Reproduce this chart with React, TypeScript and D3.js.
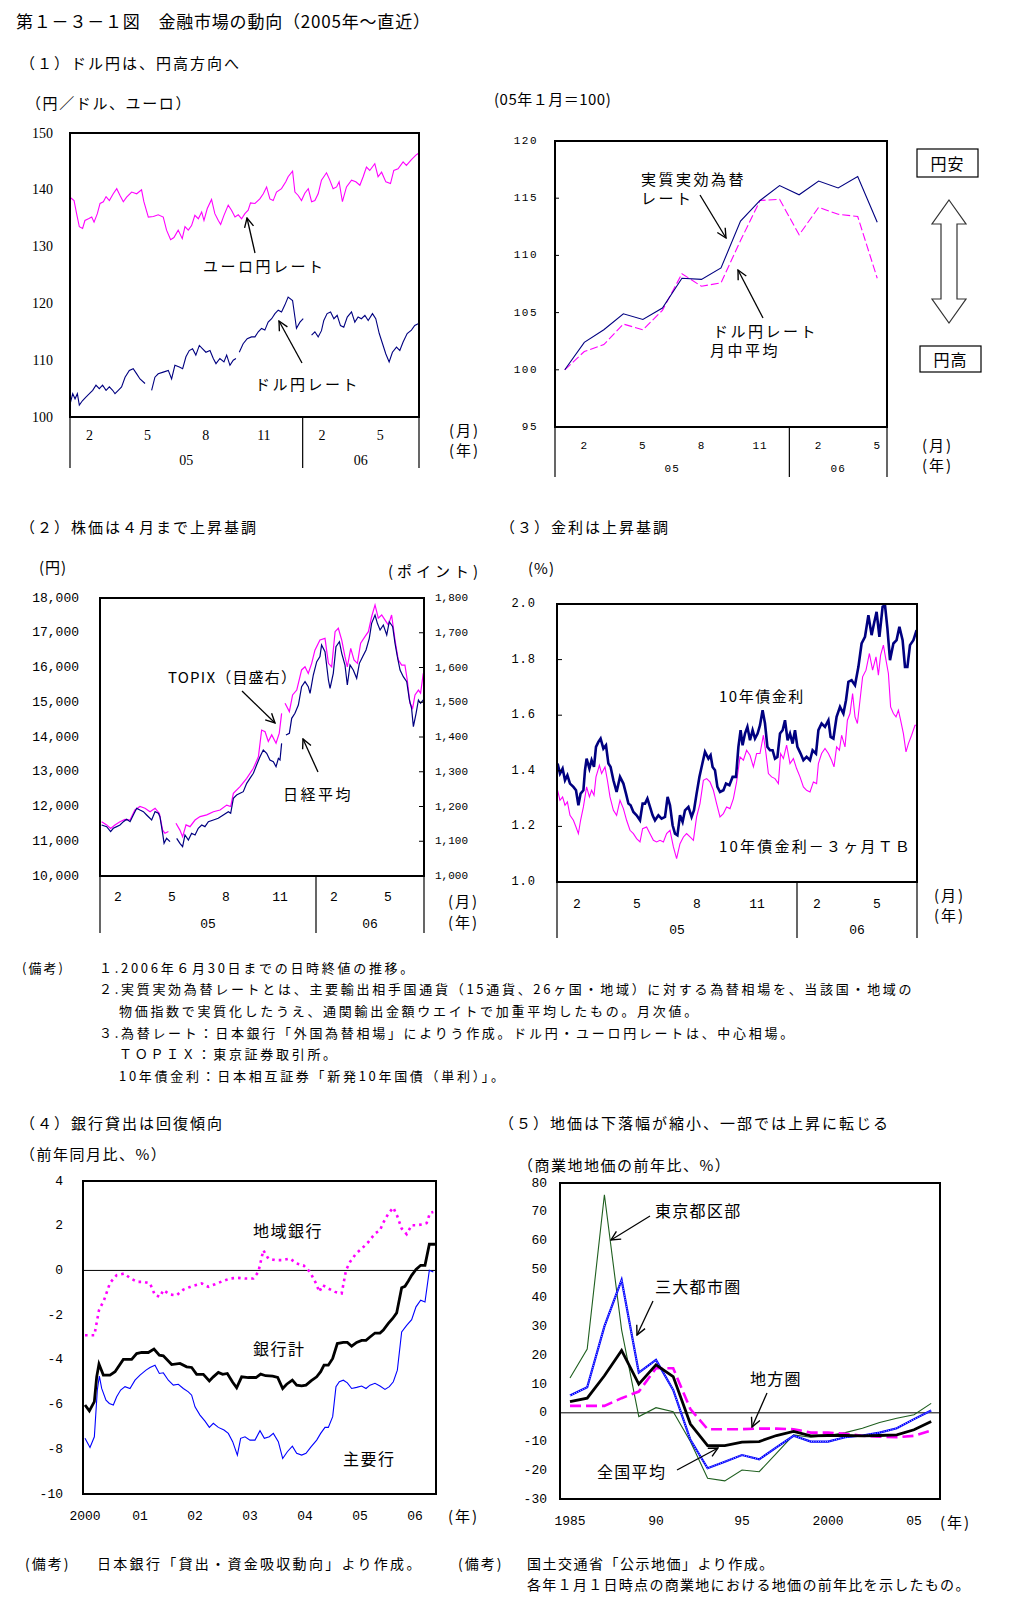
import React from "react";
import * as d3 from "d3";

type P = [number, number | null];

// ---------------- DATA ----------------
// (1) left: daily rates, [months since 1 Jan 2005, yen]
const euroYen: P[] = [[0.03,138.6],[0.21,138.1],[0.34,135.8],[0.48,133.5],[0.65,133.2],[0.77,134.6],[0.95,134.9],[1.12,135.2],[1.24,134.3],[1.41,135.8],[1.55,137.6],[1.72,137.9],[1.86,138.8],[2.03,138.1],[2.23,139.3],[2.41,140.2],[2.58,139.0],[2.75,137.9],[2.92,138.7],[3.18,139.6],[3.44,139.3],[3.69,140.0],[3.81,137.9],[4.04,135.2],[4.30,135.3],[4.55,135.6],[4.81,135.2],[4.98,132.9],[5.19,131.2],[5.36,131.6],[5.58,132.9],[5.79,131.4],[5.93,133.5],[6.10,132.9],[6.27,133.7],[6.44,135.5],[6.62,134.9],[6.79,136.1],[6.91,134.6],[7.08,136.7],[7.30,138.3],[7.47,135.8],[7.65,134.6],[7.77,133.9],[7.94,135.5],[8.16,137.3],[8.33,136.4],[8.51,135.2],[8.68,135.6],[8.85,134.9],[9.02,135.8],[9.19,136.4],[9.31,137.7],[9.54,137.6],[9.79,138.4],[9.97,139.3],[10.14,140.5],[10.31,138.4],[10.48,138.1],[10.65,139.6],[10.91,140.2],[11.13,141.4],[11.25,142.3],[11.48,143.3],[11.60,139.6],[11.77,139.0],[11.94,138.1],[12.11,139.4],[12.29,140.2],[12.46,137.9],[12.63,138.1],[12.80,139.3],[12.97,141.7],[13.23,143.0],[13.40,141.7],[13.57,140.2],[13.75,140.5],[13.88,141.4],[14.05,137.9],[14.26,140.5],[14.52,141.7],[14.74,141.4],[14.95,140.8],[15.12,142.3],[15.29,144.0],[15.46,143.4],[15.72,144.6],[15.89,142.3],[16.07,143.1],[16.29,141.4],[16.53,141.1],[16.70,143.4],[16.92,143.7],[17.18,144.9],[17.35,144.3],[17.61,145.3],[17.84,146.1],[17.96,146.4]];
const usdYen: P[] = [[0.03,102.6],[0.14,104.1],[0.26,103.2],[0.38,104.1],[0.48,102.1],[0.65,102.9],[0.82,103.5],[1.00,104.1],[1.17,104.7],[1.34,105.6],[1.51,105.0],[1.68,105.6],[1.86,104.7],[2.03,105.3],[2.20,104.7],[2.32,104.1],[2.49,104.7],[2.66,105.3],[2.84,107.0],[3.06,108.2],[3.26,108.5],[3.44,107.6],[3.61,106.7],[3.87,105.9],[4.0,null],[4.21,104.7],[4.38,107.0],[4.55,107.6],[4.81,107.9],[5.07,108.2],[5.24,106.7],[5.41,109.1],[5.64,108.8],[5.81,108.5],[5.98,110.6],[6.15,111.7],[6.32,112.0],[6.49,110.9],[6.67,112.6],[6.84,112.0],[7.01,111.4],[7.22,111.7],[7.39,110.3],[7.53,109.4],[7.73,110.3],[7.94,109.7],[8.08,110.9],[8.25,109.1],[8.42,110.0],[8.56,110.3],[8.65,null],[8.73,111.4],[8.93,112.9],[9.14,113.8],[9.36,114.1],[9.54,114.1],[9.71,115.0],[9.88,115.6],[10.05,115.3],[10.22,116.7],[10.40,117.3],[10.57,118.2],[10.74,118.8],[10.91,118.5],[11.08,119.7],[11.25,121.1],[11.48,120.5],[11.60,117.6],[11.68,115.6],[11.86,116.7],[12.03,117.3],[12.2,null],[12.46,114.4],[12.63,115.0],[12.80,114.1],[12.97,115.2],[13.09,117.0],[13.26,118.2],[13.44,118.5],[13.61,117.3],[13.78,117.9],[13.95,116.1],[14.12,115.8],[14.30,117.6],[14.52,118.5],[14.69,116.7],[14.86,117.6],[15.03,117.3],[15.21,117.9],[15.38,117.0],[15.60,118.2],[15.77,117.3],[15.95,114.7],[16.12,112.9],[16.29,111.1],[16.46,109.7],[16.63,111.4],[16.84,112.3],[17.01,111.7],[17.18,113.2],[17.39,114.7],[17.61,115.3],[17.78,116.1],[17.96,116.4]];

// (1) right: monthly, Jan 2005 .. May 2006 (Jan 2005 = 100)
const realEffective = [100, 102.4, 103.5, 104.9, 104.4, 105.4, 108.0, 107.9, 108.9, 113.0, 114.8, 116.1, 115.3, 116.5, 115.9, 116.9, 112.9];
const usdMonthlyAvg = [100, 101.6, 102.2, 104.0, 103.5, 105.2, 108.4, 107.3, 107.6, 111.3, 114.8, 114.9, 111.8, 114.2, 113.6, 113.4, 108.0];

// (2) stocks: [months since 1 Jan 2005, value]
const nikkei: P[] = [[0.09,11468],[0.37,11420],[0.59,11276],[0.74,11372],[0.93,11420],[1.11,11468],[1.30,11564],[1.48,11631],[1.67,11564],[1.85,11756],[2.04,11947],[2.22,11899],[2.41,11852],[2.59,11756],[2.87,11612],[3.06,11852],[3.24,11804],[3.33,11708],[3.48,11228],[3.56,10940],[3.70,11084],[3.89,10988],[4.05,null],[4.26,11084],[4.44,10940],[4.59,10844],[4.72,11180],[4.91,11036],[5.09,11228],[5.28,11180],[5.46,11372],[5.65,11468],[5.83,11420],[6.02,11564],[6.30,11612],[6.57,11660],[6.85,11756],[7.13,11852],[7.26,11804],[7.41,12235],[7.59,12331],[7.78,12379],[7.96,12427],[8.15,12667],[8.33,12811],[8.52,12955],[8.70,13194],[8.89,13434],[9.07,13626],[9.26,13530],[9.44,13338],[9.63,13290],[9.78,13146],[9.91,13386],[10.00,13338],[10.09,13818],[10.2,null],[10.33,14058],[10.52,14106],[10.65,14537],[10.83,14681],[11.02,14921],[11.20,15448],[11.39,15592],[11.57,15448],[11.67,15257],[11.85,15784],[12.04,16168],[12.22,16312],[12.31,16648],[12.50,16456],[12.69,15640],[12.78,15401],[12.96,15832],[13.11,16600],[13.30,16743],[13.43,16408],[13.61,16072],[13.74,15496],[13.89,16072],[14.07,15928],[14.26,15688],[14.41,16120],[14.59,16312],[14.78,16504],[14.96,16839],[15.09,17271],[15.28,17511],[15.41,17271],[15.56,17079],[15.74,17223],[15.93,16935],[16.07,17319],[16.26,17175],[16.39,16695],[16.52,16312],[16.67,15928],[16.85,15736],[17.04,15592],[17.19,15065],[17.31,14825],[17.41,14297],[17.56,14681],[17.69,15065],[17.81,14969],[17.96,15065]];
const topix: P[] = [[0.09,1156],[0.37,1147],[0.59,1137],[0.83,1147],[1.11,1156],[1.39,1163],[1.67,1161],[1.94,1190],[2.22,1200],[2.50,1195],[2.78,1185],[3.06,1195],[3.30,1180],[3.48,1132],[3.61,1123],[3.80,1128],[4.0,null],[4.22,1152],[4.44,1132],[4.59,1113],[4.78,1147],[5.00,1142],[5.28,1161],[5.56,1171],[5.93,1176],[6.30,1185],[6.67,1190],[7.04,1204],[7.26,1200],[7.41,1238],[7.78,1257],[8.15,1281],[8.52,1310],[8.80,1343],[8.98,1420],[9.17,1415],[9.35,1387],[9.54,1406],[9.78,1382],[9.96,1411],[10.09,1468],[10.2,null],[10.28,1497],[10.52,1473],[10.70,1521],[10.93,1535],[11.20,1593],[11.39,1602],[11.57,1583],[11.76,1612],[11.94,1650],[12.22,1679],[12.50,1684],[12.69,1612],[12.87,1602],[13.06,1703],[13.24,1713],[13.43,1679],[13.61,1631],[13.74,1602],[13.93,1655],[14.11,1622],[14.30,1612],[14.48,1670],[14.72,1689],[14.91,1703],[15.09,1746],[15.28,1780],[15.46,1742],[15.65,1751],[15.83,1737],[16.02,1722],[16.20,1751],[16.39,1679],[16.57,1622],[16.76,1607],[16.94,1607],[17.07,1564],[17.22,1497],[17.37,1483],[17.50,1521],[17.69,1535],[17.81,1526],[17.96,1583]];

// (3) rates: [months since 1 Jan 2005, %]
const jgb10: P[] = [[0.03,1.426],[0.15,1.390],[0.28,1.408],[0.40,1.366],[0.52,1.384],[0.65,1.354],[0.82,1.342],[0.95,1.330],[1.07,1.276],[1.18,1.318],[1.32,1.330],[1.40,1.402],[1.48,1.444],[1.62,1.408],[1.73,1.438],[1.85,1.414],[1.95,1.486],[2.07,1.504],[2.18,1.516],[2.32,1.480],[2.45,1.492],[2.57,1.426],[2.68,1.414],[2.82,1.366],[2.98,1.324],[3.15,1.378],[3.32,1.354],[3.45,1.318],[3.57,1.282],[3.68,1.276],[3.82,1.252],[3.98,1.240],[4.15,1.222],[4.28,1.282],[4.40,1.282],[4.52,1.300],[4.65,1.270],[4.78,1.240],[4.90,1.222],[5.07,1.240],[5.23,1.228],[5.40,1.234],[5.53,1.306],[5.65,1.276],[5.78,1.204],[5.90,1.174],[6.02,1.168],[6.15,1.240],[6.28,1.216],[6.40,1.258],[6.57,1.270],[6.73,1.234],[6.85,1.258],[6.98,1.318],[7.12,1.378],[7.23,1.414],[7.40,1.468],[7.57,1.444],[7.68,1.456],[7.78,1.414],[7.90,1.402],[8.02,1.342],[8.15,1.324],[8.32,1.330],[8.45,1.354],[8.62,1.348],[8.78,1.378],[8.95,1.378],[9.07,1.486],[9.18,1.546],[9.28,1.492],[9.40,1.534],[9.52,1.558],[9.65,1.510],[9.78,1.546],[9.90,1.516],[10.03,1.534],[10.15,1.564],[10.28,1.618],[10.40,1.570],[10.52,1.486],[10.65,1.474],[10.78,1.474],[10.90,1.444],[11.02,1.450],[11.15,1.534],[11.28,1.546],[11.40,1.582],[11.53,1.510],[11.65,1.534],[11.78,1.498],[11.90,1.546],[12.02,1.486],[12.18,1.462],[12.32,1.438],[12.48,1.450],[12.65,1.438],[12.78,1.474],[12.95,1.462],[13.07,1.546],[13.23,1.570],[13.40,1.558],[13.57,1.582],[13.68,1.522],[13.82,1.516],[13.98,1.594],[14.15,1.630],[14.32,1.606],[14.45,1.654],[14.57,1.720],[14.73,1.726],[14.90,1.708],[15.07,1.774],[15.23,1.858],[15.40,1.882],[15.57,1.960],[15.73,1.888],[15.85,1.930],[15.98,1.972],[16.12,1.882],[16.28,1.990],[16.40,1.996],[16.52,1.912],[16.65,1.798],[16.82,1.858],[16.98,1.870],[17.12,1.918],[17.28,1.870],[17.40,1.774],[17.52,1.774],[17.65,1.852],[17.82,1.870],[17.98,1.906]];
const spread: P[] = [[0.03,1.330],[0.15,1.294],[0.28,1.306],[0.40,1.276],[0.52,1.288],[0.65,1.240],[0.82,1.222],[0.95,1.198],[1.07,1.174],[1.18,1.222],[1.32,1.270],[1.48,1.342],[1.62,1.306],[1.73,1.330],[1.85,1.312],[1.95,1.378],[2.12,1.420],[2.23,1.390],[2.40,1.414],[2.52,1.366],[2.65,1.306],[2.82,1.258],[2.98,1.240],[3.15,1.294],[3.32,1.264],[3.48,1.222],[3.65,1.186],[3.82,1.174],[3.98,1.156],[4.15,1.144],[4.28,1.192],[4.48,1.198],[4.65,1.174],[4.82,1.150],[4.98,1.144],[5.15,1.150],[5.32,1.144],[5.48,1.174],[5.65,1.186],[5.82,1.126],[5.98,1.084],[6.15,1.138],[6.32,1.162],[6.48,1.174],[6.65,1.162],[6.82,1.150],[6.98,1.234],[7.15,1.282],[7.32,1.366],[7.48,1.372],[7.65,1.360],[7.82,1.330],[7.98,1.282],[8.15,1.234],[8.32,1.246],[8.48,1.270],[8.65,1.264],[8.82,1.300],[8.98,1.360],[9.15,1.450],[9.32,1.438],[9.48,1.474],[9.65,1.456],[9.82,1.414],[9.98,1.462],[10.15,1.462],[10.32,1.528],[10.45,1.462],[10.57,1.390],[10.73,1.378],[10.90,1.372],[11.07,1.354],[11.18,1.462],[11.32,1.444],[11.48,1.492],[11.65,1.426],[11.82,1.444],[11.98,1.408],[12.15,1.378],[12.32,1.342],[12.48,1.330],[12.65,1.324],[12.82,1.360],[12.98,1.354],[13.07,1.426],[13.23,1.462],[13.40,1.480],[13.57,1.462],[13.73,1.438],[13.85,1.414],[13.98,1.486],[14.12,1.474],[14.23,1.528],[14.40,1.486],[14.52,1.582],[14.65,1.606],[14.78,1.678],[14.90,1.594],[15.02,1.570],[15.15,1.654],[15.28,1.738],[15.45,1.762],[15.62,1.822],[15.78,1.762],[15.95,1.810],[16.07,1.744],[16.18,1.816],[16.32,1.852],[16.45,1.798],[16.57,1.750],[16.68,1.630],[16.82,1.606],[16.95,1.594],[17.07,1.618],[17.18,1.582],[17.32,1.534],[17.45,1.468],[17.57,1.498],[17.73,1.528],[17.90,1.564],[17.98,1.564]];

// (4) bank lending, [months since Jan 2000, % y/y]
const bankTotal: P[] = [[0,-6.02],[0.95,-6.28],[2.04,-5.87],[2.55,-4.76],[3.05,-4.19],[4.0,-4.68],[5.45,-4.68],[6.55,-4.53],[8.36,-3.98],[10.18,-3.98],[11.27,-3.72],[12.36,-3.67],[13.82,-3.67],[15.05,-3.52],[16.22,-3.79],[17.09,-3.82],[18.91,-4.21],[20.73,-4.16],[22.18,-4.31],[23.27,-4.34],[24.36,-4.65],[25.82,-4.65],[27.13,-4.94],[28.0,-4.76],[29.09,-4.56],[30.04,-4.65],[31.05,-4.61],[32.15,-4.98],[33.09,-5.25],[34.18,-4.76],[35.64,-4.79],[37.31,-4.79],[38.33,-4.64],[39.42,-4.71],[40.95,-4.73],[42.04,-4.79],[43.13,-5.28],[44.0,-5.09],[45.24,-4.91],[46.18,-5.13],[47.27,-5.16],[48.22,-5.13],[49.31,-4.94],[50.55,-4.76],[51.42,-4.53],[52.15,-4.24],[53.09,-4.24],[54.04,-3.94],[55.05,-3.27],[56.36,-3.22],[57.24,-3.22],[58.18,-3.39],[59.27,-3.22],[60.36,-3.13],[61.31,-3.13],[62.18,-2.98],[63.27,-2.80],[64.36,-2.80],[65.09,-2.67],[66.18,-2.37],[67.13,-2.15],[68.0,-1.90],[69.09,-0.77],[69.82,-0.71],[70.55,-0.47],[71.27,-0.22],[72.22,0.04],[73.24,0.23],[74.18,0.23],[75.13,1.17],[75.85,1.17],[76.36,1.17]];
const majorBanks: P[] = [[0,-7.51],[1.09,-7.92],[2.04,-7.44],[2.69,-5.35],[3.13,-4.73],[3.64,-5.28],[4.58,-5.80],[5.31,-5.95],[6.18,-6.02],[6.91,-5.65],[7.78,-5.35],[8.73,-5.20],[9.82,-5.28],[10.91,-4.91],[12.0,-4.68],[13.31,-4.46],[14.18,-4.34],[15.27,-4.24],[16.22,-4.61],[17.09,-4.58],[18.18,-4.91],[19.27,-5.13],[20.36,-5.09],[21.45,-5.28],[22.55,-5.43],[23.27,-5.58],[24.0,-6.10],[25.09,-6.47],[26.18,-6.74],[27.13,-7.02],[28.0,-6.84],[29.09,-7.02],[30.33,-7.14],[31.27,-7.29],[32.22,-7.66],[33.24,-8.26],[33.96,-7.51],[34.91,-7.44],[36.0,-7.59],[37.09,-7.59],[38.18,-7.17],[39.13,-7.51],[40.22,-7.44],[41.09,-7.29],[42.18,-7.66],[43.13,-8.41],[44.15,-8.11],[45.24,-7.86],[46.18,-8.18],[47.27,-8.26],[48.22,-8.18],[49.31,-7.89],[50.55,-7.59],[51.42,-7.29],[52.36,-7.02],[53.09,-7.02],[54.04,-6.54],[54.76,-5.20],[55.49,-4.98],[56.36,-4.91],[57.24,-5.03],[58.18,-5.28],[59.27,-5.23],[60.36,-5.17],[61.31,-5.28],[62.18,-5.13],[63.27,-5.05],[64.36,-5.17],[65.45,-5.32],[66.4,-5.20],[67.27,-4.98],[68.15,-4.46],[69.09,-2.75],[70.18,-2.46],[71.27,-2.20],[72.22,-1.63],[73.24,-1.33],[74.18,-1.41],[75.13,0.01],[76.0,-0.07]];
const regionalBanks: P[] = [[0,-2.90],[2.04,-2.90],[3.05,-1.78],[4.15,-1.33],[5.45,-0.56],[6.91,-0.21],[8.51,-0.14],[9.96,-0.36],[11.42,-0.51],[12.73,-0.51],[14.18,-0.58],[15.27,-1.11],[16.36,-1.18],[17.09,-0.88],[18.55,-1.08],[20.0,-1.11],[21.45,-0.86],[23.27,-0.71],[25.45,-0.58],[26.91,-0.73],[28.36,-0.62],[30.04,-0.48],[31.64,-0.36],[33.24,-0.33],[34.91,-0.36],[36.73,-0.36],[37.82,-0.07],[38.91,0.90],[40.0,0.53],[41.45,0.46],[43.13,0.46],[44.73,0.53],[46.18,0.31],[47.64,0.23],[49.09,-0.07],[50.4,-0.58],[51.13,-0.96],[51.85,-0.66],[53.09,-0.81],[54.55,-0.96],[56.0,-1.03],[56.95,0.01],[57.82,0.38],[59.13,0.75],[60.36,0.97],[61.82,1.27],[63.27,1.65],[64.36,1.80],[65.09,2.14],[66.18,2.54],[67.27,2.81],[68.15,2.42],[69.09,1.87],[70.18,1.62],[71.27,2.02],[72.36,2.02],[73.67,2.06],[74.55,2.12],[75.27,2.57],[76.0,2.61]];

// (5) land prices 1985..2006
const landYears = d3.range(1985, 2007);
const tokyoWards = [12.1, 22.2, 75.9, 28.9, -1.3, 1.8, 0.4, -10.0, -22.8, -23.7, -19.9, -20.5, -14.1, -7.7, -8.5, -7.9, -6.9, -5.4, -3.4, -1.9, -0.7, 3.3];
const threeMetro = [6.0, 8.9, 30.1, 46.3, 14.0, 18.4, 8.0, -9.4, -19.3, -17.0, -14.7, -16.2, -12.0, -8.0, -10.0, -10.0, -8.5, -7.9, -6.9, -5.4, -2.2, 0.8];
const nationalAvg = [3.9, 5.1, 12.9, 21.7, 10.0, 16.7, 12.6, -3.9, -11.4, -11.4, -10.2, -10.0, -7.9, -6.5, -8.0, -7.9, -7.9, -8.0, -7.9, -7.7, -5.9, -3.0];
const localAreas = [2.4, 2.4, 2.4, 5.1, 7.4, 15.5, 15.5, 1.3, -5.7, -5.7, -5.7, -5.5, -5.5, -5.7, -6.9, -6.9, -7.3, -8.0, -8.3, -8.5, -8.0, -6.2];

// tick labels
const monthTickPos = [1, 4, 7, 10, 13, 16];
const monthTickLabels = ["2", "5", "8", "11", "2", "5"];
const yearLabels = ["05", "06"];
const lendYearLabels = ["2000", "01", "02", "03", "04", "05", "06"];
const landTickYears = [1985, 1990, 1995, 2000, 2005];
const landTickLabels = ["1985", "90", "95", "2000", "05"];

const notes = [
  "１.2006年６月30日までの日時終値の推移。",
  "２.実質実効為替レートとは、主要輸出相手国通貨（15通貨、26ヶ国・地域）に対する為替相場を、当該国・地域の",
  "物価指数で実質化したうえ、通関輸出金額ウエイトで加重平均したもの。月次値。",
  "３.為替レート：日本銀行「外国為替相場」によりう作成。ドル円・ユーロ円レートは、中心相場。",
  "ＴＯＰＩＸ：東京証券取引所。",
  "10年債金利：日本相互証券「新発10年国債（単利）」。",
];

// ---------------- STYLE ----------------
const JP = "'Noto Sans CJK JP','Noto Sans',sans-serif";
const MONO = "'Liberation Mono','DejaVu Sans Mono',monospace";
const SERIF = "'Liberation Serif',serif";
const MAGENTA = "#ff00ff";
const NAVY = "#000080";
const BLUE = "#0000ff";
const GREEN = "#1f5f1f";

const T = ({ x, y, children, size = 15, anchor = "start", ls = 0, family = JP, fill = "#000" }: any) => (
  <text x={x} y={y} fontSize={size} textAnchor={anchor} dominantBaseline="central" fontFamily={family} fill={fill} style={{ letterSpacing: ls }}>
    {children}
  </text>
);

const Arrow = ({ x1, y1, x2, y2 }: any) => (
  <line x1={x1} y1={y1} x2={x2} y2={y2} stroke="#000" strokeWidth={1.3} markerEnd="url(#ah)" />
);

const pline = (x: any, y: any) =>
  d3.line<P>().defined((d) => d[1] != null).x((d) => x(d[0])).y((d) => y(d[1] as number));

const MonthAxis = ({ x, top, bottom, ly, yy, size, family, ls = 0 }: any) => {
  const seps = [x(0), x(12), x(18)];
  return (
    <g>
      {seps.map((sx: number, i: number) => (
        <line key={i} x1={sx} x2={sx} y1={top} y2={bottom} stroke="#000" strokeWidth={1.2} />
      ))}
      {monthTickPos.map((m, i) => (
        <T key={i} x={x(m)} y={ly} size={size} anchor="middle" family={family} ls={ls}>{monthTickLabels[i]}</T>
      ))}
      <T x={(seps[0] + seps[1]) / 2} y={yy} size={size} anchor="middle" family={family} ls={ls}>{yearLabels[0]}</T>
      <T x={(seps[1] + seps[2]) / 2} y={yy} size={size} anchor="middle" family={family} ls={ls}>{yearLabels[1]}</T>
    </g>
  );
};

// ---------------- PANELS ----------------
const Panel1L = () => {
  const x = d3.scaleLinear().domain([0, 18]).range([70, 419]);
  const y = d3.scaleLinear().domain([100, 150]).range([417, 133]);
  const ln = pline(x, y);
  return (
    <g>
      <path d={ln(euroYen) || ""} fill="none" stroke={MAGENTA} strokeWidth={1.1} />
      <path d={ln(usdYen) || ""} fill="none" stroke={NAVY} strokeWidth={1.1} />
      <rect x={70} y={133} width={349} height={284} fill="none" stroke="#000" strokeWidth={2} />
      {d3.range(100, 151, 10).map((v) => (
        <T key={v} x={53} y={y(v)} size={14} anchor="end" family={SERIF}>{v}</T>
      ))}
      <MonthAxis x={x} top={417} bottom={468} ly={435} yy={460} size={14} family={SERIF} />
      <T x={203} y={265} size={15} ls={2.5}>ユーロ円レート</T>
      <Arrow x1={255} y1={253} x2={247} y2={218} />
      <T x={255} y={383} size={15} ls={2.5}>ドル円レート</T>
      <Arrow x1={302} y1={363} x2={279} y2={321} />
      <T x={449} y={429} size={15} ls={2}>(月)</T>
      <T x={449} y={449} size={15} ls={2}>(年)</T>
    </g>
  );
};

const Panel1R = () => {
  const x = d3.scaleLinear().domain([-0.5, 16.5]).range([555, 887]);
  const y = d3.scaleLinear().domain([95, 120]).range([427, 141]);
  const ln = d3.line<number>().x((_, i) => x(i)).y((d) => y(d));
  const seps = [x(-0.5), x(11.5), x(16.5)];
  return (
    <g>
      <path d={ln(usdMonthlyAvg) || ""} fill="none" stroke={MAGENTA} strokeWidth={1.1} strokeDasharray="8,3" />
      <path d={ln(realEffective) || ""} fill="none" stroke={NAVY} strokeWidth={1.1} />
      <rect x={555} y={141} width={332} height={286} fill="none" stroke="#000" strokeWidth={2} />
      {d3.range(95, 121, 5).map((v) => (
        <g key={v}>
          <line x1={555} x2={559} y1={y(v)} y2={y(v)} stroke="#000" />
          <T x={538} y={y(v)} size={11} anchor="end" family={MONO} ls={1.5}>{v}</T>
        </g>
      ))}
      {seps.map((sx, i) => (
        <line key={i} x1={sx} x2={sx} y1={427} y2={477} stroke="#000" strokeWidth={1.2} />
      ))}
      {monthTickPos.map((m, i) => (
        <T key={i} x={x(m)} y={446} size={11} anchor="middle" family={MONO} ls={1}>{monthTickLabels[i]}</T>
      ))}
      <T x={(seps[0] + seps[1]) / 2} y={469} size={11} anchor="middle" family={MONO} ls={1}>{yearLabels[0]}</T>
      <T x={(seps[1] + seps[2]) / 2} y={469} size={11} anchor="middle" family={MONO} ls={1}>{yearLabels[1]}</T>
      <T x={494} y={98} size={15} ls={0.5}>(05年１月＝100)</T>
      <T x={641} y={178} size={15} ls={2.5}>実質実効為替</T>
      <T x={641} y={197} size={15} ls={2.5}>レート</T>
      <Arrow x1={700} y1={195} x2={726} y2={238} />
      <T x={713} y={330} size={15} ls={2.5}>ドル円レート</T>
      <T x={710} y={349} size={15} ls={2.5}>月中平均</T>
      <Arrow x1={763} y1={318} x2={738} y2={270} />
      <rect x={917} y={149} width={61} height={28} fill="#fff" stroke="#000" strokeWidth={1.2} />
      <T x={947.5} y={163} size={16} anchor="middle" ls={1}>円安</T>
      <rect x={920} y={346} width={61} height={26} fill="#fff" stroke="#000" strokeWidth={1.2} />
      <T x={950.5} y={359} size={16} anchor="middle" ls={1}>円高</T>
      <path d="M949,200 L966,224 L957,224 L957,299 L966,299 L949,323 L932,299 L941,299 L941,224 L932,224 Z" fill="#fff" stroke="#333" strokeWidth={1.2} />
      <T x={922} y={444} size={15} ls={2}>(月)</T>
      <T x={922} y={464} size={15} ls={2}>(年)</T>
    </g>
  );
};

const Panel2 = () => {
  const x = d3.scaleLinear().domain([0, 18]).range([100, 424]);
  const yL = d3.scaleLinear().domain([10000, 18000]).range([876, 598]);
  const yR = d3.scaleLinear().domain([1000, 1800]).range([876, 598]);
  return (
    <g>
      <path d={pline(x, yR)(topix) || ""} fill="none" stroke={MAGENTA} strokeWidth={1.2} />
      <path d={pline(x, yL)(nikkei) || ""} fill="none" stroke={NAVY} strokeWidth={1.2} />
      <rect x={100} y={598} width={324} height={278} fill="none" stroke="#000" strokeWidth={2} />
      {d3.range(10000, 18001, 1000).map((v) => (
        <T key={v} x={79} y={yL(v)} size={13} anchor="end" family={MONO}>{d3.format(",")(v)}</T>
      ))}
      {d3.range(1000, 1801, 100).map((v) => (
        <g key={v}>
          <line x1={419} x2={424} y1={yR(v)} y2={yR(v)} stroke="#000" />
          <T x={435} y={yR(v)} size={11} family={MONO}>{d3.format(",")(v)}</T>
        </g>
      ))}
      <MonthAxis x={x} top={876} bottom={933} ly={897} yy={924} size={13} family={MONO} />
      <T x={39} y={566} size={15} ls={1}>(円)</T>
      <T x={388} y={570} size={15} ls={4}>(ポイント)</T>
      <T x={168} y={676} size={15} ls={1.2}>TOPIX（目盛右）</T>
      <Arrow x1={242} y1={691} x2={275} y2={723} />
      <T x={283} y={793} size={15} ls={2.5}>日経平均</T>
      <Arrow x1={318} y1={772} x2={303} y2={739} />
      <T x={448} y={900} size={15} ls={2}>(月)</T>
      <T x={448} y={921} size={15} ls={2}>(年)</T>
    </g>
  );
};

const Panel3 = () => {
  const x = d3.scaleLinear().domain([0, 18]).range([557, 917]);
  const y = d3.scaleLinear().domain([1.0, 2.0]).range([882, 604]);
  const ln = pline(x, y);
  return (
    <g>
      <path d={ln(spread) || ""} fill="none" stroke={MAGENTA} strokeWidth={1.1} />
      <path d={ln(jgb10) || ""} fill="none" stroke={NAVY} strokeWidth={2.6} />
      <rect x={557} y={604} width={360} height={278} fill="none" stroke="#000" strokeWidth={2} />
      {d3.range(0, 6).map((i) => {
        const v = 1.0 + i * 0.2;
        return (
          <g key={i}>
            <line x1={557} x2={562} y1={y(v)} y2={y(v)} stroke="#000" />
            <T x={536} y={y(v)} size={12} anchor="end" family={MONO} ls={1}>{v.toFixed(1)}</T>
          </g>
        );
      })}
      <MonthAxis x={x} top={882} bottom={938} ly={904} yy={930} size={13} family={MONO} />
      <T x={528} y={567} size={15} ls={1}>(%)</T>
      <T x={719} y={695} size={15} ls={1.5}>10年債金利</T>
      <T x={719} y={845} size={15} ls={2.2}>10年債金利－３ヶ月ＴＢ</T>
      <T x={934} y={894} size={15} ls={2}>(月)</T>
      <T x={934} y={914} size={15} ls={2}>(年)</T>
    </g>
  );
};

const Panel4 = () => {
  const x = d3.scaleLinear().domain([0, 72]).range([85, 415]);
  const y = d3.scaleLinear().domain([-10, 4]).range([1494, 1181]);
  const ln = pline(x, y);
  return (
    <g>
      <line x1={83} x2={436} y1={y(0)} y2={y(0)} stroke="#000" strokeWidth={1} />
      <path d={ln(regionalBanks) || ""} fill="none" stroke={MAGENTA} strokeWidth={2.6} strokeDasharray="2.6,4" />
      <path d={ln(majorBanks) || ""} fill="none" stroke={BLUE} strokeWidth={1.1} />
      <path d={ln(bankTotal) || ""} fill="none" stroke="#000" strokeWidth={2.8} />
      <rect x={83} y={1181} width={353} height={313} fill="none" stroke="#000" strokeWidth={2} />
      {d3.range(-10, 5, 2).map((v) => (
        <T key={v} x={63} y={y(v)} size={13} anchor="end" family={MONO}>{v}</T>
      ))}
      {lendYearLabels.map((l, i) => (
        <T key={i} x={x(i * 12)} y={1516} size={13} anchor="middle" family={MONO}>{l}</T>
      ))}
      <T x={448} y={1515} size={15} ls={2}>(年)</T>
      <T x={253} y={1230} size={16} ls={1.5}>地域銀行</T>
      <T x={253} y={1348} size={16} ls={1.5}>銀行計</T>
      <T x={343} y={1458} size={16} ls={1.5}>主要行</T>
    </g>
  );
};

const Panel5 = () => {
  const x = d3.scaleLinear().domain([1985, 2005]).range([570, 914]);
  const y = d3.scaleLinear().domain([-30, 80]).range([1499, 1183]);
  const ln = d3.line<number>().x((_, i) => x(landYears[i])).y((d) => y(d));
  return (
    <g>
      <line x1={560} x2={940} y1={y(0)} y2={y(0)} stroke="#000" strokeWidth={1} />
      <path d={ln(tokyoWards) || ""} fill="none" stroke={GREEN} strokeWidth={1.1} />
      <path d={ln(localAreas) || ""} fill="none" stroke={MAGENTA} strokeWidth={2.6} strokeDasharray="11,5" />
      <path d={ln(threeMetro) || ""} fill="none" stroke={BLUE} strokeWidth={2.2} />
      <path d={ln(threeMetro) || ""} fill="none" stroke="#fff" strokeWidth={0.8} strokeDasharray="0.8,1.5" />
      <path d={ln(nationalAvg) || ""} fill="none" stroke="#000" strokeWidth={2.8} />
      <rect x={560} y={1183} width={380} height={316} fill="none" stroke="#000" strokeWidth={2} />
      {d3.range(-30, 81, 10).map((v) => (
        <T key={v} x={547} y={y(v)} size={13} anchor="end" family={MONO}>{v}</T>
      ))}
      {landTickYears.map((yr, i) => (
        <T key={yr} x={x(yr)} y={1521} size={13} anchor="middle" family={MONO}>{landTickLabels[i]}</T>
      ))}
      <T x={940} y={1521} size={15} ls={2}>(年)</T>
      <T x={518} y={1164} size={15} ls={1.5}>（商業地地価の前年比、%）</T>
      <T x={655} y={1210} size={16} ls={1.3}>東京都区部</T>
      <Arrow x1={650} y1={1216} x2={611} y2={1240} />
      <T x={655} y={1286} size={16} ls={1.3}>三大都市圏</T>
      <Arrow x1={653} y1={1301} x2={637} y2={1335} />
      <T x={750} y={1378} size={16} ls={1.3}>地方圏</T>
      <Arrow x1={767} y1={1393} x2={752} y2={1427} />
      <T x={597} y={1471} size={16} ls={1.3}>全国平均</T>
      <Arrow x1={677} y1={1470} x2={718} y2={1448} />
    </g>
  );
};

export default function App() {
  const noteX = [99, 99, 119, 99, 119, 119];
  const noteY = [967, 988, 1010, 1032, 1053, 1075];
  return (
    <div style={{ position: "absolute", left: 0, top: 0 }}>
      <svg width={1028} height={1601} viewBox="0 0 1028 1601" style={{ display: "block", background: "#fff" }}>
        <defs>
          <marker id="ah" viewBox="0 0 12 12" refX="11" refY="6" markerWidth="11" markerHeight="11" markerUnits="userSpaceOnUse" orient="auto">
            <path d="M1,1 L11,6 L1,11" fill="none" stroke="#000" strokeWidth="1.5" />
          </marker>
        </defs>
        <rect x={0} y={0} width={1028} height={1601} fill="#fff" />
        <T x={16} y={20} size={17} ls={0.8}>第１－３－１図　金融市場の動向（2005年～直近）</T>
        <T x={20} y={62} size={15} ls={2}>（１）ドル円は、円高方向へ</T>
        <T x={26} y={102} size={15} ls={1.6}>（円／ドル、ユーロ）</T>
        <Panel1L />
        <Panel1R />
        <T x={20} y={526} size={15} ls={2}>（２）株価は４月まで上昇基調</T>
        <Panel2 />
        <T x={500} y={526} size={15} ls={2}>（３）金利は上昇基調</T>
        <Panel3 />
        <T x={22} y={967} size={13} ls={2}>(備考)</T>
        {notes.map((n, i) => (
          <T key={i} x={noteX[i]} y={noteY[i]} size={13} ls={2.7}>{n}</T>
        ))}
        <T x={20} y={1122} size={15} ls={2}>（４）銀行貸出は回復傾向</T>
        <T x={20} y={1153} size={15} ls={1.5}>（前年同月比、%）</T>
        <Panel4 />
        <T x={499} y={1122} size={15} ls={2}>（５）地価は下落幅が縮小、一部では上昇に転じる</T>
        <Panel5 />
        <T x={25} y={1563} size={14} ls={2}>(備考)</T>
        <T x={97} y={1563} size={14} ls={2.3}>日本銀行「貸出・資金吸収動向」より作成。</T>
        <T x={458} y={1563} size={14} ls={2}>(備考)</T>
        <T x={527} y={1563} size={14} ls={1.5}>国土交通省「公示地価」より作成。</T>
        <T x={527} y={1584} size={14} ls={1.3}>各年１月１日時点の商業地における地価の前年比を示したもの。</T>
      </svg>
    </div>
  );
}
